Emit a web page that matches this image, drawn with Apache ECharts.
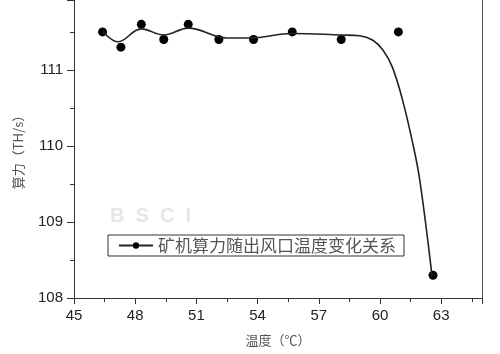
<!DOCTYPE html>
<html>
<head>
<meta charset="utf-8">
<script src="https://cdn.jsdelivr.net/npm/echarts@6/dist/echarts.min.js"></script>
<style>
  html, body { margin: 0; padding: 0; background: #fff; }
  #main { width: 500px; height: 354px; }
</style>
</head>
<body>
<div id="main"></div>
<script>
// measured points
const tempX = [46.4, 47.3, 48.3, 49.4, 50.6, 52.1, 53.8, 55.7, 58.1, 60.9, 62.6]
const hashRate = [111.5, 111.3, 111.6, 111.4, 111.6, 111.4, 111.4, 111.5, 111.4, 111.5, 108.3]

// fitted curve
const fitX = [46.4, 47.15, 48.3, 49.4, 50.6, 52.5, 53.6, 55.7, 58.1, 59.0, 59.65, 60.15, 60.6, 61.1, 61.6, 61.95, 62.55]
const fitY = [111.51, 111.37, 111.54, 111.46, 111.55, 111.42, 111.42, 111.48, 111.46, 111.45, 111.39, 111.26, 111.04, 110.61, 110.04, 109.55, 108.29]

const xTicks = [45, 48, 51, 54, 57, 60, 63]
const yTicks = [108, 109, 110, 111]

const legendName = '矿机算力随出风口温度变化关系'

const chart = echarts.init(document.getElementById('main'), null, { renderer: 'canvas' })

const axisFont = { fontSize: 15, color: '#222', fontFamily: 'Liberation Sans, Arial' }

let option = {
    animation: false,
    backgroundColor: '#fff',
    grid: { left: 74, right: 18, top: 0, bottom: 56 },
    graphic: [
        {
            type: 'text',
            left: 110,
            top: 206,
            style: { text: 'B  S  C  I', fontSize: 20, fontWeight: 'bold', fill: '#e6e6e6', fontFamily: 'Liberation Sans' }
        }
    ],
    legend: {
        data: [legendName],
        left: 108,
        top: 235,
        padding: [2, 8, 2, 10],
        itemWidth: 34,
        itemHeight: 8,
        itemGap: 6,
        borderColor: '#333',
        borderWidth: 1,
        backgroundColor: '#fff',
        textStyle: { fontSize: 17, color: '#555', fontFamily: 'Noto Sans CJK SC' }
    },
    xAxis: {
        type: 'value',
        min: 45,
        max: 65,
        interval: 3,
        name: '温度（℃）',
        nameLocation: 'middle',
        nameGap: 36,
        nameTextStyle: { fontSize: 13, color: '#555', fontFamily: 'Noto Sans CJK SC' },
        splitLine: { show: false },
        axisLine: { lineStyle: { color: '#333', width: 1 } },
        axisTick: { length: 6, lineStyle: { color: '#333' } },
        minorTick: { show: true, splitNumber: 2, length: 4, lineStyle: { color: '#333' } },
        axisLabel: Object.assign({ margin: 10, formatter: v => xTicks.includes(v) ? String(v) : '' }, axisFont)
    },
    yAxis: [
        {
            type: 'value',
            min: 108,
            max: 111.92,
            interval: 1,
            name: '算力（TH/s）',
            nameLocation: 'middle',
            nameGap: 49,
            nameTextStyle: { fontSize: 13, color: '#555', fontFamily: 'Noto Sans CJK SC' },
            splitLine: { show: false },
            axisLine: { show: true, lineStyle: { color: '#333', width: 1 } },
            axisTick: { show: true, length: 7, lineStyle: { color: '#333' } },
            minorTick: { show: true, splitNumber: 2, length: 4, lineStyle: { color: '#333' } },
            axisLabel: Object.assign({ margin: 11, showMaxLabel: false, formatter: v => yTicks.includes(v) ? String(v) : '' }, axisFont)
        },
        {
            type: 'value',
            position: 'right',
            min: 108,
            max: 111.92,
            splitLine: { show: false },
            axisLine: { show: true, lineStyle: { color: '#555', width: 1 } },
            axisTick: { show: false },
            axisLabel: { show: false }
        }
    ],
    series: [
        {
            name: legendName,
            type: 'line',
            smooth: 0.4,
            symbol: 'circle',
            symbolSize: 8,
            showSymbol: false,
            itemStyle: { color: '#000', opacity: 1 },
            lineStyle: { color: '#222', width: 1.6 },
            data: fitX.map((x, i) => [x, fitY[i]])
        },
        {
            name: 'points',
            type: 'scatter',
            symbol: 'circle',
            symbolSize: 9,
            itemStyle: { color: '#000', opacity: 1 },
            data: tempX.map((x, i) => [x, hashRate[i]])
        }
    ]
}

chart.setOption(option)
</script>
</body>
</html>
